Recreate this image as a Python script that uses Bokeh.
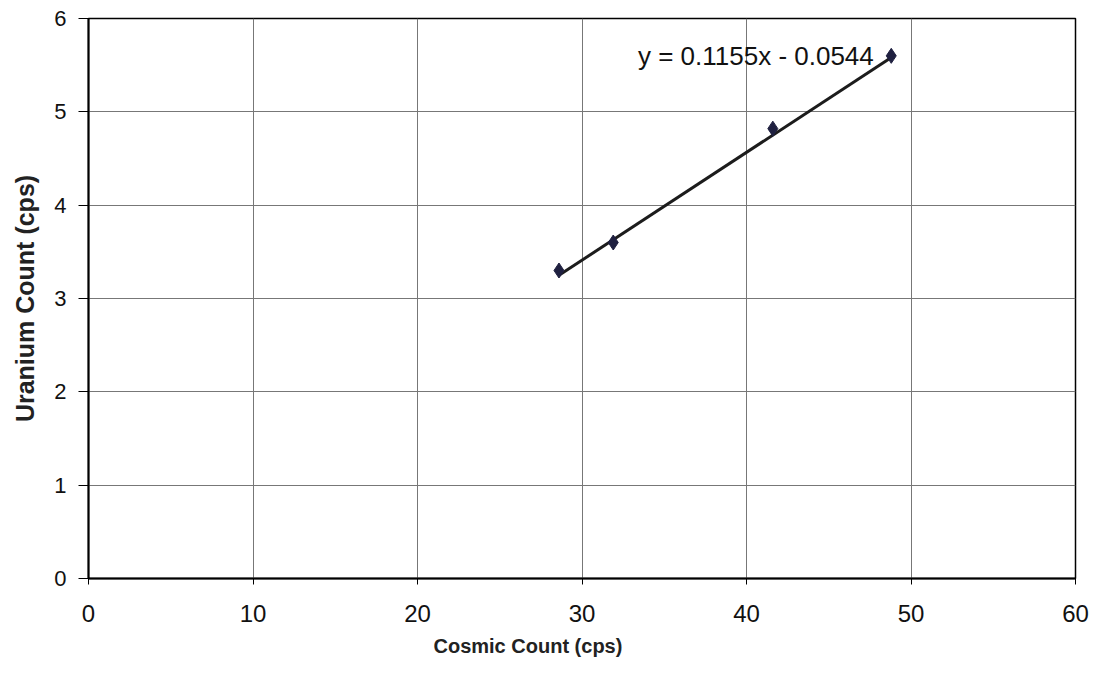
from bokeh.plotting import figure
from bokeh.models import Range1d, Label, Title, FixedTicker
from bokeh.embed import file_html
from bokeh.resources import INLINE

# Data
cosmic = [28.6, 31.9, 41.6, 48.8]
uranium = [3.30, 3.60, 4.82, 5.60]
slope = 0.1155
intercept = -0.0544
equation = "y = 0.1155x - 0.0544"
x_ticks = [0, 10, 20, 30, 40, 50, 60]
y_ticks = [0, 1, 2, 3, 4, 5, 6]

FONT = "Liberation Sans"

p = figure(width=1090, height=669, output_backend="svg", toolbar_location=None,
           x_range=Range1d(0, 60), y_range=Range1d(0, 6),
           min_border_left=88, min_border_right=15, min_border_top=18, min_border_bottom=91)
p.background_fill_color = "white"
p.border_fill_color = "white"
p.outline_line_color = "black"
p.outline_line_width = 1.5

for ax in (p.xaxis[0], p.yaxis[0]):
    ax.axis_line_color = "black"
    ax.axis_line_width = 2
    ax.major_tick_line_color = "black"
    ax.major_tick_in = 0
    ax.minor_tick_line_color = None
    ax.major_label_text_color = "#111111"
    ax.major_label_text_font = FONT

p.xaxis[0].major_label_text_font_size = "24px"
p.yaxis[0].major_label_text_font_size = "22px"

p.xaxis[0].ticker = FixedTicker(ticks=x_ticks)
p.yaxis[0].ticker = FixedTicker(ticks=y_ticks)
p.xaxis[0].major_tick_out = 6
p.yaxis[0].major_tick_out = 10
p.xaxis[0].major_label_standoff = 20
p.yaxis[0].major_label_standoff = 12

p.yaxis[0].axis_label = "Uranium Count (cps)"
p.yaxis[0].axis_label_text_font = FONT
p.yaxis[0].axis_label_text_font_size = "25px"
p.yaxis[0].axis_label_text_font_style = "bold"
p.yaxis[0].axis_label_text_color = "#222222"
p.yaxis[0].axis_label_standoff = 12

xt = Title(text="Cosmic Count (cps)", align="left", offset=345,
           text_font=FONT, text_font_size="20px", text_font_style="bold",
           text_color="#222222", standoff=16)
p.add_layout(xt, "below")

p.xgrid.grid_line_color = "#777777"
p.ygrid.grid_line_color = "#777777"
p.xgrid.grid_line_width = 1
p.ygrid.grid_line_width = 1

# trend line
tx = [min(cosmic), max(cosmic)]
ty = [slope * v + intercept for v in tx]
p.line(tx, ty, line_color="#1c1c1c", line_width=3)

p.scatter(cosmic, uranium, marker="diamond", size=15,
          fill_color="#1f2040", line_color="#1f2040")

lab = Label(x=33.4, y=5.6, text=equation, text_font=FONT,
            text_font_size="26px", text_color="#111111", text_baseline="middle")
p.add_layout(lab)

open("out.html", "w").write(file_html(p, INLINE))
